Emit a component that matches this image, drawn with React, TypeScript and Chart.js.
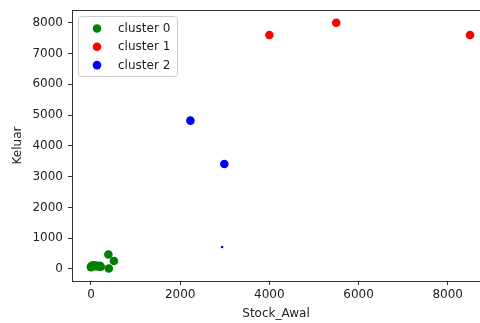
import React, { useEffect, useRef } from "react";
import { Chart, registerables } from "chart.js";

Chart.register(...registerables);

const cluster0X = [0, 20, 50, 80, 110, 150, 200, 220, 0, 390, 515, 400];
const cluster0Y = [80, 100, 120, 90, 110, 80, 100, 75, 60, 470, 260, 15];
const cluster1X = [4000, 5500, 8500];
const cluster1Y = [7600, 8000, 7600];
const cluster2X = [2230, 2990];
const cluster2Y = [4820, 3410];
const extraX = [2940];
const extraY = [714];
const xTicks = [0, 2000, 4000, 6000, 8000];
const yTicks = [0, 1000, 2000, 3000, 4000, 5000, 6000, 7000, 8000];
const legendLabels = ["cluster 0", "cluster 1", "cluster 2"];

const FONT = "DejaVu Sans";

const zip = (xs: number[], ys: number[]) => xs.map((x, i) => ({ x, y: ys[i] }));

const framePlugin = {
  id: "frameAndLegend",
  afterDraw(chart: any) {
    const { ctx, chartArea } = chart;
    ctx.save();
    // top spine
    ctx.strokeStyle = "#333";
    ctx.lineWidth = 1;
    ctx.beginPath();
    ctx.moveTo(chartArea.left, chartArea.top + 0.5);
    ctx.lineTo(chartArea.right, chartArea.top + 0.5);
    ctx.stroke();

    // legend
    const bx = chartArea.left + 6.5;
    const by = chartArea.top + 6.5;
    const bw = 99;
    const bh = 60;
    const r = 3;
    ctx.beginPath();
    ctx.moveTo(bx + r, by);
    ctx.lineTo(bx + bw - r, by);
    ctx.arcTo(bx + bw, by, bx + bw, by + r, r);
    ctx.lineTo(bx + bw, by + bh - r);
    ctx.arcTo(bx + bw, by + bh, bx + bw - r, by + bh, r);
    ctx.lineTo(bx + r, by + bh);
    ctx.arcTo(bx, by + bh, bx, by + bh - r, r);
    ctx.lineTo(bx, by + r);
    ctx.arcTo(bx, by, bx + r, by, r);
    ctx.closePath();
    ctx.fillStyle = "rgba(255,255,255,0.8)";
    ctx.fill();
    ctx.strokeStyle = "#cccccc";
    ctx.stroke();

    ctx.font = `12px "${FONT}"`;
    ctx.textBaseline = "middle";
    ctx.textAlign = "left";
    legendLabels.forEach((label, i) => {
      const ds = chart.data.datasets[i];
      const cy = by + 12 + i * 18.3;
      ctx.beginPath();
      ctx.arc(bx + 18.5, cy, 4.3, 0, Math.PI * 2);
      ctx.fillStyle = ds.backgroundColor;
      ctx.fill();
      ctx.fillStyle = "#222";
      ctx.fillText(label, bx + 39.5, cy + 0.5);
    });
    ctx.restore();
  },
};

export default function App() {
  const ref = useRef<HTMLCanvasElement>(null);

  useEffect(() => {
    document.body.style.margin = "0";
    const canvas = ref.current;
    if (!canvas) return;
    const tickFont = { family: FONT, size: 12 };
    const chart = new Chart(canvas, {
      type: "scatter",
      data: {
        datasets: [
          {
            label: legendLabels[0],
            data: zip(cluster0X, cluster0Y),
            backgroundColor: "#008000",
            borderColor: "#008000",
            pointRadius: 4.3,
            borderWidth: 0,
          },
          {
            label: legendLabels[1],
            data: zip(cluster1X, cluster1Y),
            backgroundColor: "#ff0000",
            borderColor: "#ff0000",
            pointRadius: 4.3,
            borderWidth: 0,
          },
          {
            label: legendLabels[2],
            data: zip(cluster2X, cluster2Y),
            backgroundColor: "#0000ff",
            borderColor: "#0000ff",
            pointRadius: 4.3,
            borderWidth: 0,
          },
          {
            label: "",
            data: zip(extraX, extraY),
            backgroundColor: "#0000ff",
            borderColor: "#0000ff",
            pointRadius: 1.3,
            borderWidth: 0,
          },
        ],
      },
      options: {
        animation: false,
        responsive: false,
        events: [],
        layout: { autoPadding: false, padding: { top: 10, right: 0, left: 0, bottom: 0 } },
        plugins: {
          legend: { display: false },
          tooltip: { enabled: false },
        },
        scales: {
          x: {
            type: "linear",
            min: -426,
            max: 8724,
            afterBuildTicks: (s: any) => {
              s.ticks = xTicks.map((v) => ({ value: v }));
            },
            afterFit: (s: any) => {
              s.height = 42;
              s.paddingLeft = 0;
              s.paddingRight = 0;
            },
            grid: {
              display: true,
              drawOnChartArea: false,
              drawTicks: true,
              tickLength: 4,
              tickColor: "#333",
            },
            border: { display: true, color: "#333", width: 1 },
            ticks: {
              font: tickFont,
              color: "#222",
              padding: 3,
              maxRotation: 0,
              autoSkip: false,
              callback: (v: any) => String(v),
            },
            title: {
              display: true,
              text: "Stock_Awal",
              font: tickFont,
              color: "#222",
              padding: { top: 0, bottom: 2 },
            },
          },
          y: {
            type: "linear",
            min: -390,
            max: 8412,
            afterBuildTicks: (s: any) => {
              s.ticks = yTicks.map((v) => ({ value: v }));
            },
            afterFit: (s: any) => {
              s.width = 72;
              s.paddingTop = 0;
              s.paddingBottom = 0;
            },
            grid: {
              display: true,
              drawOnChartArea: false,
              drawTicks: true,
              tickLength: 4,
              tickColor: "#333",
            },
            border: { display: true, color: "#333", width: 1 },
            ticks: {
              font: tickFont,
              color: "#222",
              padding: 5,
              autoSkip: false,
              callback: (v: any) => String(v),
            },
            title: {
              display: true,
              text: "Keluar",
              font: tickFont,
              color: "#222",
              padding: { top: 11, bottom: 0 },
            },
          },
        },
      },
      plugins: [framePlugin],
    });
    return () => chart.destroy();
  }, []);

  return (
    <div style={{ width: 480, height: 323 }}>
      <canvas ref={ref} width={480} height={323} style={{ display: "block" }} />
    </div>
  );
}
